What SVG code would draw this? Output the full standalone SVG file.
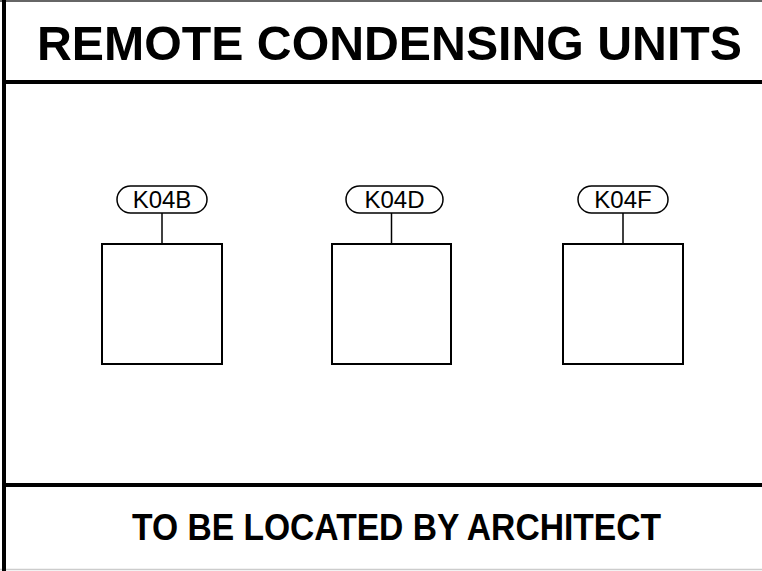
<svg xmlns="http://www.w3.org/2000/svg" width="762" height="571" viewBox="0 0 762 571">
<style>
.t{font-family:"Liberation Sans",Arial,sans-serif;font-weight:bold;fill:#000}
.lbl{font-family:"Liberation Sans",Arial,sans-serif;font-size:24px;fill:#000;text-anchor:middle}
.pill{fill:#fff;stroke:#000;stroke-width:1.5}
.box{fill:#fff;stroke:#000;stroke-width:2}
.conn{stroke:#000;stroke-width:1.5;fill:none}
</style>
<rect x="0" y="0" width="762" height="571" fill="#fff"/>
<g id="frame">
<line x1="0" y1="1" x2="762" y2="1" stroke="#666" stroke-width="2"/>
<line x1="0" y1="569.5" x2="762" y2="569.5" stroke="#ccc" stroke-width="1.5"/>
<line x1="4" y1="0" x2="4" y2="571" stroke="#000" stroke-width="4"/>
<line x1="4" y1="82" x2="762" y2="82" stroke="#000" stroke-width="4"/>
<line x1="4" y1="485" x2="762" y2="485" stroke="#000" stroke-width="4"/>
</g>
<g id="title"><text class="t" x="37" y="60" font-size="48" textLength="705" lengthAdjust="spacingAndGlyphs">REMOTE CONDENSING UNITS</text></g>
<g id="footer"><text class="t" x="132" y="540" font-size="36" textLength="529" lengthAdjust="spacingAndGlyphs">TO BE LOCATED BY ARCHITECT</text></g>
<g id="connectors">
<line class="conn" x1="162" y1="213" x2="162" y2="244"/>
<line class="conn" x1="391.5" y1="213" x2="391.5" y2="244"/>
<line class="conn" x1="623" y1="213" x2="623" y2="244"/>
</g>
<g id="K04B">
<rect class="box" x="102" y="244" width="120" height="120"/>
<rect class="pill" x="117" y="186" width="90" height="27" rx="13.5"/>
<text class="lbl" x="162" y="208">K04B</text>
</g>
<g id="K04D">
<rect class="box" x="332" y="244" width="119" height="120"/>
<rect class="pill" x="346" y="186" width="97" height="27" rx="13.5"/>
<text class="lbl" x="394.5" y="208">K04D</text>
</g>
<g id="K04F">
<rect class="box" x="563" y="244" width="120" height="120"/>
<rect class="pill" x="578" y="186" width="90" height="27" rx="13.5"/>
<text class="lbl" x="623" y="208">K04F</text>
</g>
</svg>
